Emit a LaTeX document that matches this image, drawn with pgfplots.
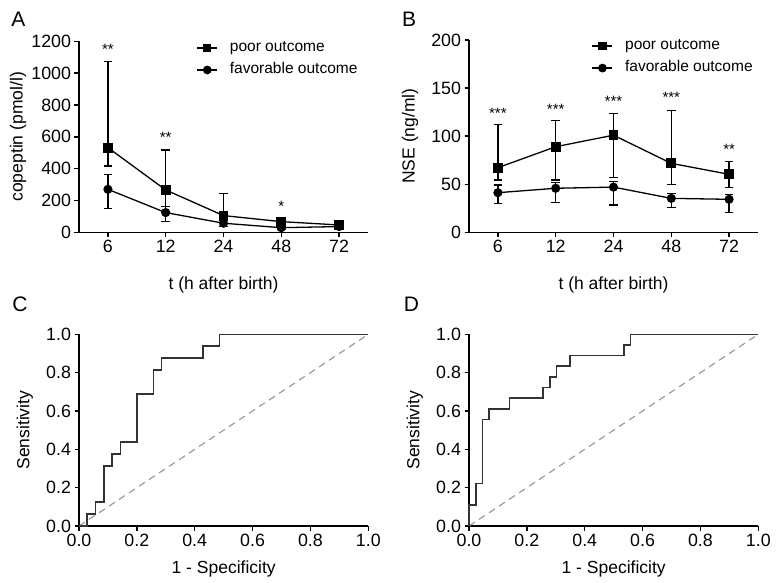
\documentclass[border=0pt]{standalone}
\usepackage{pgfplots}
\pgfplotsset{compat=1.18}
\usepackage{fontspec}
\setmainfont{Liberation Sans}
\definecolor{roc}{HTML}{333333}
\definecolor{diag}{HTML}{959595}
\tikzset{stars/.style={font=\fontsize{15}{17}\selectfont, anchor=center}}
\pgfplotsset{
  prism/.style={
    scale only axis, clip=false,
    axis x line=bottom, axis y line=left,
    axis line style={-, line width=1.4pt, black},
    tick align=outside, major tick length=4.5pt,
    every tick/.style={black, line width=1.4pt},
    /pgf/number format/assume math mode=true,
    /pgf/number format/1000 sep={},
    tick label style={font=\fontsize{17.8}{20}\selectfont},
    label style={font=\fontsize{17.5}{20}\selectfont},
    xlabel style={at={(axis description cs:0.5,-0.276)}, anchor=center},
  },
  cat/.style={
    xmin=-0.5, xmax=4.5, xtick={0,1,2,3,4},
    xticklabels={6,12,24,48,72},
    xlabel={t (h after birth)},
    legend style={draw=none, fill=none, font=\fontsize{15.5}{18}\selectfont,
      inner sep=0pt, outer sep=0pt, row sep=7.5pt, column sep=0pt,
      nodes={inner sep=0pt, outer sep=0pt, text height=11pt, text depth=3.5pt}},
    legend cell align=left,
  },
  rocax/.style={
    xmin=0, xmax=1, ymin=0, ymax=1,
    xtick={0,0.2,...,1.0}, ytick={0,0.2,...,1.0},
    xticklabel style={/pgf/number format/.cd, fixed, fixed zerofill, precision=1},
    yticklabel style={/pgf/number format/.cd, fixed, fixed zerofill, precision=1},
    xlabel={1 - Specificity}, ylabel={Sensitivity},
    xlabel style={at={(axis description cs:0.5,-0.222)}, anchor=center},
    ylabel style={at={(axis description cs:-0.187,0.5)}, anchor=center},
  },
  poor/.style={black, line width=1.3pt, mark=square*, mark size=4.3pt,
    mark options={solid},
    error bars/.cd, y dir=both, y explicit,
    error bar style={line width=1.3pt},
    error mark options={rotate=90, mark size=4.3pt, line width=1.3pt}},
  fav/.style={black, line width=1.3pt, mark=*, mark size=3.9pt,
    error bars/.cd, y dir=both, y explicit,
    error bar style={line width=1.3pt},
    error mark options={rotate=90, mark size=4.3pt, line width=1.3pt}},
  legsq/.style={legend image code/.code={
    \draw[black, line width=1.3pt] (0pt,0pt) -- (20pt,0pt);
    \fill[black] (6.5pt,-3.7pt) rectangle (13.5pt,3.7pt);
    \path (32pt,0pt);}},
  legci/.style={legend image code/.code={
    \draw[black, line width=1.3pt] (0pt,0pt) -- (20pt,0pt);
    \fill[black] (10pt,0pt) circle (3.7pt);
    \path (32pt,0pt);}},
}
\begin{document}
\begin{tikzpicture}
\path[use as bounding box] (0pt,0pt) rectangle (781pt,582pt);

% Panel A
\begin{axis}[prism, cat, at={(79pt,349.7pt)}, anchor=south west,
  width=289pt, height=191pt,
  ymin=0, ymax=1200, ytick={0,200,...,1200},
  ylabel={copeptin (pmol/l)},
  ylabel style={at={(axis description cs:-0.211,0.5)}, anchor=center},
  legend style={at={(axis description cs:0.407,1.003)}, anchor=north west}]
\addplot[legsq, poor] coordinates {
  (0,532) += (0,540) -= (0,115)
  (1,266) += (0,251) -= (0,105)
  (2,105) += (0,140) -= (0,50)
  (3,67)  += (0,10)  -= (0,10)
  (4,46)  += (0,8)   -= (0,8)
};
\addlegendentry{poor outcome}
\addplot[legci, fav] coordinates {
  (0,270) += (0,92) -= (0,120)
  (1,124) += (0,40) -= (0,57)
  (2,57)  += (0,15) -= (0,20)
  (3,29)  += (0,10) -= (0,10)
  (4,36)  += (0,5)  -= (0,8)
};
\addlegendentry{favorable outcome}
\node[stars] at (axis cs:0,1147) {**};
\node[stars] at (axis cs:1,597) {**};
\node[stars] at (axis cs:3,163) {*};
\end{axis}

% Panel B
\begin{axis}[prism, cat, at={(469pt,349.7pt)}, anchor=south west,
  width=289pt, height=192.3pt,
  ymin=0, ymax=200, ytick={0,50,...,200},
  ylabel={NSE (ng/ml)},
  ylabel style={at={(axis description cs:-0.204,0.5)}, anchor=center},
  legend style={at={(axis description cs:0.425,1.006)}, anchor=north west}]
\addplot[legsq, poor] coordinates {
  (0,67.2)  += (0,45.1) -= (0,12.8)
  (1,89)    += (0,27)   -= (0,34.6)
  (2,101)   += (0,22.7) -= (0,43.8)
  (3,71.7)  += (0,55.3) -= (0,22.2)
  (4,60.3)  += (0,13.7) -= (0,13.5)
};
\addlegendentry{poor outcome}
\addplot[legci, fav] coordinates {
  (0,41.2) += (0,8)   -= (0,11)
  (1,45.8) += (0,6)   -= (0,14.6)
  (2,47)   += (0,6)   -= (0,18.6)
  (3,35.3) += (0,5)   -= (0,9.7)
  (4,34.3) += (0,5)   -= (0,13.5)
};
\addlegendentry{favorable outcome}
\node[stars] at (axis cs:0,124) {***};
\node[stars] at (axis cs:1,127.5) {***};
\node[stars] at (axis cs:2,136) {***};
\node[stars] at (axis cs:3,140) {***};
\node[stars] at (axis cs:4,86) {**};
\end{axis}

% Panel C
\begin{axis}[prism, rocax, at={(79pt,56pt)}, anchor=south west,
  width=289.3pt, height=191.7pt]
\addplot[diag, line width=1.1pt, dash pattern=on 7pt off 5pt] coordinates {(0,0) (1,1)};
\addplot[roc, line width=1.6pt] coordinates {
  (0,0) (0.0286,0) (0.0286,0.0625) (0.0571,0.0625) (0.0571,0.125)
  (0.0857,0.125) (0.0857,0.3125) (0.1143,0.3125) (0.1143,0.375)
  (0.1429,0.375) (0.1429,0.4375) (0.2,0.4375) (0.2,0.6875)
  (0.2571,0.6875) (0.2571,0.8125) (0.2857,0.8125) (0.2857,0.875)
  (0.4286,0.875) (0.4286,0.9375) (0.4857,0.9375) (0.4857,1) (1,1)
};
\end{axis}

% Panel D
\begin{axis}[prism, rocax, at={(469pt,56pt)}, anchor=south west,
  width=289.3pt, height=191.7pt]
\addplot[diag, line width=1.1pt, dash pattern=on 7pt off 5pt] coordinates {(0,0) (1,1)};
\addplot[roc, line width=1.6pt] coordinates {
  (0,0) (0,0.1111) (0.0233,0.1111) (0.0233,0.2222) (0.0465,0.2222)
  (0.0465,0.5556) (0.0698,0.5556) (0.0698,0.6111) (0.1395,0.6111)
  (0.1395,0.6667) (0.2558,0.6667) (0.2558,0.7222) (0.2791,0.7222)
  (0.2791,0.7778) (0.3023,0.7778) (0.3023,0.8333) (0.3488,0.8333)
  (0.3488,0.8889) (0.5349,0.8889) (0.5349,0.9444) (0.5581,0.9444)
  (0.5581,1) (1,1)
};
\end{axis}

% Panel letters
\node[font=\fontsize{21}{24}\selectfont] at (18.5pt,562.5pt) {A};
\node[font=\fontsize{21}{24}\selectfont] at (409pt,562.5pt) {B};
\node[font=\fontsize{21}{24}\selectfont] at (20pt,277.5pt) {C};
\node[font=\fontsize{21}{24}\selectfont] at (411.5pt,277.5pt) {D};
\end{tikzpicture}
\end{document}
